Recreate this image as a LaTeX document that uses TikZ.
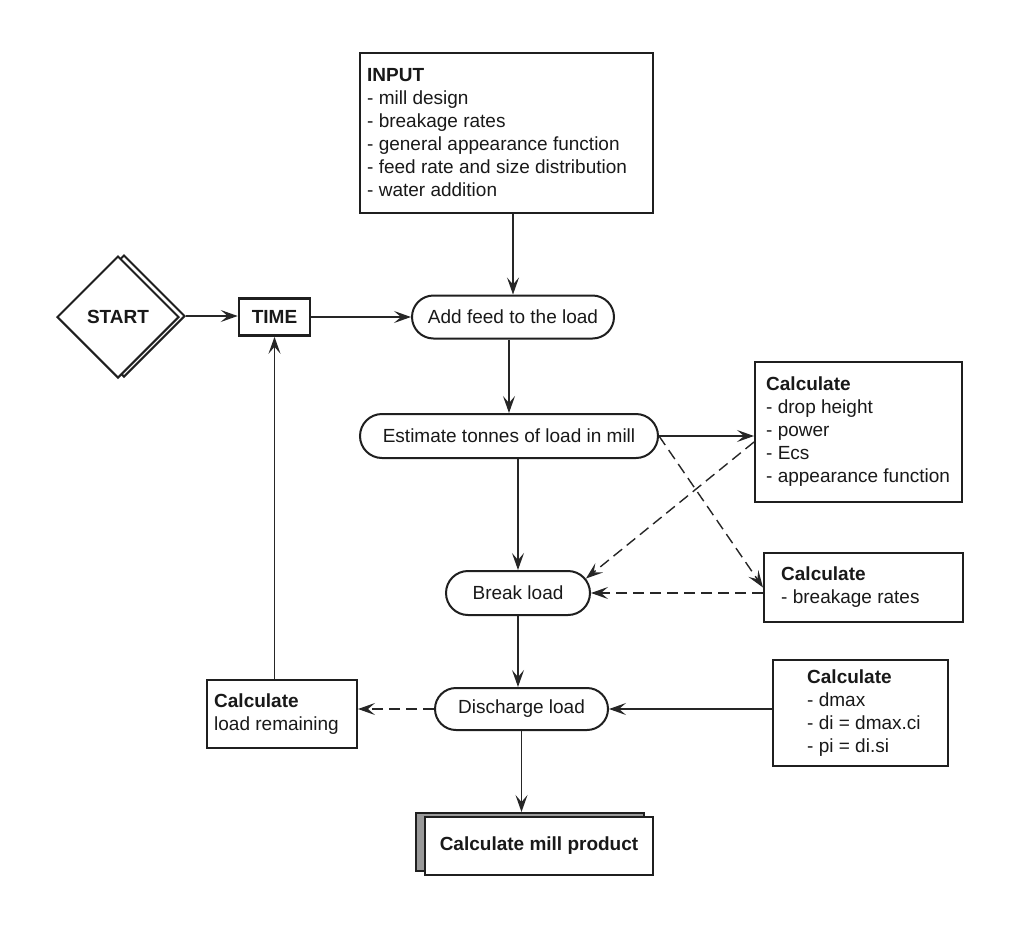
\documentclass[tikz,border=0pt]{standalone}
\usepackage{fontspec}
\setmainfont{Liberation Sans}
\usetikzlibrary{shapes.geometric,shapes.misc,arrows.meta}
\begin{document}
\begin{tikzpicture}[x=1pt,y=-1pt,
  ink/.style={draw=black!88, line width=2pt},
  every node/.style={font=\fontsize{19}{23}\selectfont, text=black!90, inner sep=0pt},
  bf/.style={font=\fontsize{19}{23}\selectfont\bfseries},
  plainbox/.style={ink, rectangle, fill=white},
  pill/.style={ink, rounded rectangle, fill=white},
  conn/.style={draw=black!85, line width=1.4pt, -{Stealth[length=17pt,width=12pt,inset=7pt]}},
  dconn/.style={conn, dash pattern=on 11pt off 6pt},
  txt/.style={anchor=west, align=left},
]
\useasboundingbox (0,0) rectangle (1010,927);

% start
\node[ink, diamond, fill=white, minimum width=122pt, minimum height=122pt] (startsh) at (124,316) {};
\node[ink, diamond, fill=white, minimum width=122pt, minimum height=122pt, bf] (start) at (118,317) {START};

\node[plainbox, line width=2.6pt, minimum width=71pt, minimum height=37pt, bf] (time) at (274.5,317) {TIME};

% input
\node[plainbox, minimum width=293pt, minimum height=160pt] (input) at (506.5,133) {};
\node[txt] (inputt) at ([xshift=8pt]input.west) {\textbf{INPUT}\\ - mill design\\ - breakage rates\\ - general appearance function\\ - feed rate and size distribution\\ - water addition};

% main column
\node[pill, minimum width=202pt, minimum height=43pt] (add) at (513,317) {Add feed to the load};
\node[pill, minimum width=298pt, minimum height=44pt] (est) at (509,436) {Estimate tonnes of load in mill};
\node[pill, minimum width=144pt, minimum height=44pt] (brk) at (518,593) {Break load};
\node[pill, minimum width=173pt, minimum height=42pt] (dis) at (521.5,709) {Discharge load};

% left box
\node[plainbox, minimum width=150pt, minimum height=68pt] (rem) at (282,714) {};
\node[txt] (remt) at ([xshift=8pt]rem.west) {\textbf{Calculate}\\ load remaining};

% right boxes
\node[plainbox, minimum width=207pt, minimum height=140pt] (calc1) at (858.5,432) {};
\node[txt] (calc1t) at ([xshift=12pt]calc1.west) {\textbf{Calculate}\\ - drop height\\ - power\\ - Ecs\\ - appearance function};

\node[plainbox, minimum width=199pt, minimum height=69pt] (calc2) at (863.5,587.5) {};
\node[txt] (calc2t) at ([xshift=18pt]calc2.west) {\textbf{Calculate}\\ - breakage rates};

\node[plainbox, minimum width=175pt, minimum height=106pt] (calc3) at (860.5,713) {};
\node[txt] (calc3t) at ([xshift=35pt]calc3.west) {\textbf{Calculate}\\ - dmax\\ - di = dmax.ci\\ - pi = di.si};

% product
\node[ink, rectangle, fill=black!40, minimum width=228pt, minimum height=58pt] (millsh) at (530,842) {};
\node[plainbox, minimum width=228pt, minimum height=58pt, bf] (mill) at (539,846) {Calculate mill product};

% connectors
\draw[conn] (startsh.east) -- (startsh.east -| time.west);
\draw[conn] (time.east) -- (add.west);
\draw[conn] (add.north |- input.south) -- (add.north);
\draw[conn] (add.south -| est.north) -- (est.north);
\draw[conn] (brk.north |- est.south) -- (brk.north);
\draw[conn] (brk.south) -- (brk.south |- dis.north);
\draw[conn] (dis.south) -- (dis.south |- millsh.north);
\draw[conn] (est.east) -- (est.east -| calc1.west);
\draw[dconn] (est.east) -- (calc2.west);
\draw[dconn] ([yshift=-10pt]calc1.west) -- (brk.12);
\draw[dconn] (brk.east -| calc2.west) -- (brk.east);
\draw[conn] (dis.east -| calc3.west) -- (dis.east);
\draw[dconn] (dis.west) -- (dis.west -| rem.east);
\draw[conn] (rem.north -| time.south) -- (time.south);
\end{tikzpicture}
\end{document}
